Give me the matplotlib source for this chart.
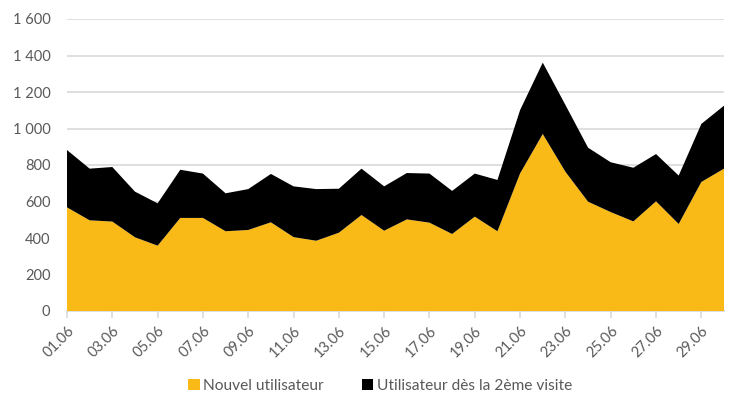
import matplotlib
matplotlib.use("Agg")
import matplotlib.pyplot as plt
from matplotlib.patches import Patch
from matplotlib.ticker import FuncFormatter, MultipleLocator

days = [f"{d:02d}.06" for d in range(1, 31)]
nouveaux = [568, 497, 490, 404, 358, 510, 510, 437, 444, 486,
            405, 385, 429, 526, 440, 502, 484, 422, 517, 437,
            754, 970, 763, 599, 542, 491, 601, 477, 707, 780]
totaux = [882, 780, 789, 654, 590, 774, 753, 645, 668, 751,
          683, 668, 670, 780, 683, 756, 753, 658, 753, 718,
          1101, 1361, 1129, 895, 815, 785, 860, 742, 1025, 1125]
recurrents = [t - n for t, n in zip(totaux, nouveaux)]
series_names = ["Nouvel utilisateur", "Utilisateur dès la 2ème visite"]

yellow = "#F9B916"
black = "#000000"
grey_txt = "#595959"
grid_c = "#D9D9D9"

plt.rcParams['font.family'] = ['Lato', 'DejaVu Sans']

fig = plt.figure(figsize=(7.31, 4.03), dpi=100)
ax = fig.add_axes([67/731, 1-311/403, (724-67)/731, (311-19)/403])

x = list(range(len(days)))
ax.stackplot(x, nouveaux, recurrents, colors=[yellow, black], linewidth=0)

ax.set_xlim(0, len(days)-1)
ax.set_ylim(0, 1600)
ax.yaxis.set_major_locator(MultipleLocator(200))
ax.yaxis.set_major_formatter(FuncFormatter(lambda v, p: f"{int(v):,}".replace(",", " ")))
ax.grid(axis='y', color=grid_c, linewidth=1.2)
ax.set_axisbelow(True)

ax.set_xticks(x[::2])
ax.set_xticklabels(days[::2], rotation=45, ha='right', va='top', rotation_mode='anchor')

for s in ['top', 'right', 'left']:
    ax.spines[s].set_visible(False)
ax.spines['bottom'].set_color(grid_c)
ax.spines['bottom'].set_linewidth(1.2)
ax.spines['bottom'].set_zorder(0)

ax.tick_params(axis='y', length=0, pad=12, labelsize=10.5, labelcolor=grey_txt)
ax.tick_params(axis='x', length=5, width=1.2, color=grid_c, pad=4, labelsize=10.5, labelcolor=grey_txt)

handles = [Patch(facecolor=yellow, edgecolor='none'), Patch(facecolor=black, edgecolor='none')]
fig.legend(handles, series_names, loc='center', bbox_to_anchor=(0.52, 1-386/403), ncol=2,
           frameon=False, fontsize=11.2, labelcolor=grey_txt, handlelength=0.75, handleheight=0.75,
           handletextpad=0.25, columnspacing=2.4)

fig.savefig("out.png", dpi=100)
